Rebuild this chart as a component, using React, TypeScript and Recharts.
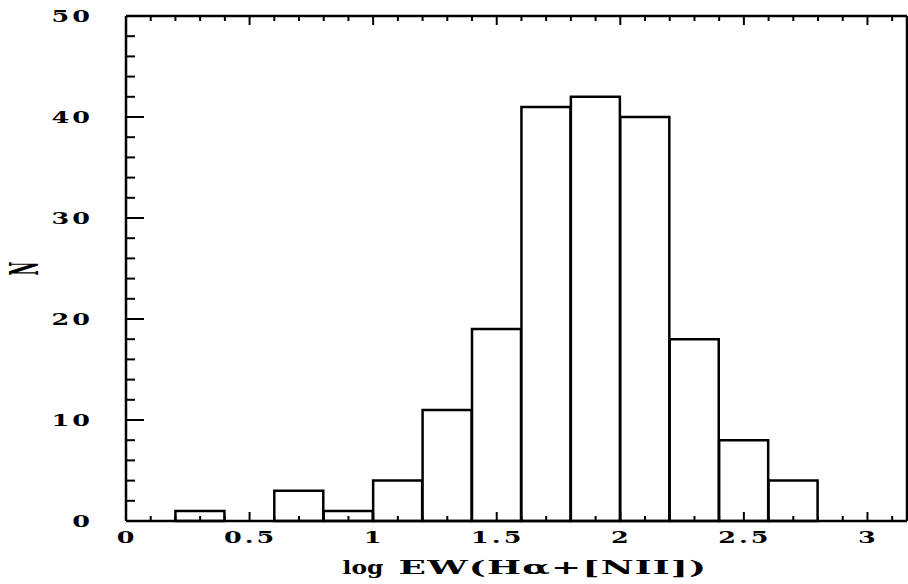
import { BarChart, Bar, XAxis, YAxis, Label } from "recharts";

// histogram bins (centre of each 0.2 wide bin) and counts
const binCenters = [0.1, 0.3, 0.5, 0.7, 0.9, 1.1, 1.3, 1.5, 1.7, 1.9, 2.1, 2.3, 2.5, 2.7];
const counts = [0, 1, 0, 3, 1, 4, 11, 19, 41, 42, 40, 18, 8, 4];

const xMajorTicks = [0, 0.5, 1, 1.5, 2, 2.5, 3];
const xTicks = [0, 0.1, 0.2, 0.3, 0.4, 0.5, 0.6, 0.7, 0.8, 0.9, 1, 1.1, 1.2, 1.3, 1.4, 1.5, 1.6, 1.7, 1.8, 1.9, 2, 2.1, 2.2, 2.3, 2.4, 2.5, 2.6, 2.7, 2.8, 2.9, 3, 3.1];
const yMajorTicks = [0, 10, 20, 30, 40, 50];
const yTicks = [0, 2, 4, 6, 8, 10, 12, 14, 16, 18, 20, 22, 24, 26, 28, 30, 32, 34, 36, 38, 40, 42, 44, 46, 48, 50];

const data = binCenters.map((x, i) => ({ x, n: counts[i] }));

const FONT = "'DejaVu Serif', serif";
const X_MAX = 3.16;
const isMajor = (list: number[], v: number) => list.some((m) => Math.abs(m - v) < 1e-6);

function BottomTick(props: any) {
  const { x, y, payload } = props;
  const major = isMajor(xMajorTicks, payload.value);
  return (
    <g>
      <line x1={x} x2={x} y1={y} y2={y - (major ? 9 : 5)} stroke="#000" strokeWidth={2} />
      {major && (
        <text
          transform={`translate(${x + 1},${y + 22}) scale(1.5,1)`}
          textAnchor="middle"
          fontFamily={FONT}
          fontWeight="bold"
          fontSize={17}
          letterSpacing={2}
          fill="#000"
        >
          {payload.value}
        </text>
      )}
    </g>
  );
}

function TopTick(props: any) {
  const { x, y, payload } = props;
  const major = isMajor(xMajorTicks, payload.value);
  return <line x1={x} x2={x} y1={y} y2={y + (major ? 9 : 5)} stroke="#000" strokeWidth={2} />;
}

function LeftTick(props: any) {
  const { x, y, payload } = props;
  const major = isMajor(yMajorTicks, payload.value);
  return (
    <g>
      <line x1={x} x2={x + (major ? 18 : 9)} y1={y} y2={y} stroke="#000" strokeWidth={2} />
      {major && (
        <text
          transform={`translate(${x - 33},${y + 6}) scale(1.5,1)`}
          textAnchor="end"
          fontFamily={FONT}
          fontWeight="bold"
          fontSize={17}
          letterSpacing={2}
          fill="#000"
        >
          {payload.value}
        </text>
      )}
    </g>
  );
}

function RightTick(props: any) {
  const { x, y, payload } = props;
  const major = isMajor(yMajorTicks, payload.value);
  return <line x1={x} x2={x - (major ? 14 : 6)} y1={y} y2={y} stroke="#000" strokeWidth={2} />;
}

function XTitle(p: any) {
  const vb = p.viewBox;
  const cx = vb.x + vb.width / 2;
  const base = vb.y + 53;
  const common = { fontFamily: FONT, fontWeight: "bold", fontSize: 18, fill: "#000" };
  return (
    <g>
      <text transform={`translate(${cx - 174},${base}) scale(1.3,1)`} textAnchor="start" {...common}>
        log
      </text>
      <text
        transform={`translate(${cx - 118},${base}) scale(2,1)`}
        textAnchor="start"
        letterSpacing={0.6}
        {...common}
      >
        EW(Hα+[NII])
      </text>
    </g>
  );
}

export default function App() {
  return (
    <div style={{ position: "fixed", left: 0, top: 0, width: 908, height: 584, background: "#fff" }}>
      <BarChart
        width={908}
        height={584}
        data={data}
        margin={{ top: 15, right: 0, bottom: 0, left: 0 }}
        barCategoryGap={0}
        barGap={0}
      >
        <XAxis
          dataKey="x"
          type="number"
          domain={[0, X_MAX]}
          allowDataOverflow
          ticks={xTicks}
          interval={0}
          height={63}
          tickSize={0}
          tickMargin={0}
          tickLine={false}
          axisLine={{ stroke: "#000", strokeWidth: 2.5 }}
          tick={<BottomTick />}
        >
          <Label content={(p: any) => <XTitle {...p} />} />
        </XAxis>
        <XAxis
          xAxisId="top"
          dataKey="x"
          type="number"
          orientation="top"
          domain={[0, X_MAX]}
          allowDataOverflow
          ticks={xTicks}
          interval={0}
          height={1}
          tickSize={0}
          tickMargin={0}
          tickLine={false}
          axisLine={{ stroke: "#000", strokeWidth: 2.5 }}
          tick={<TopTick />}
        />
        <YAxis
          type="number"
          domain={[0, 50]}
          ticks={yTicks}
          interval={0}
          width={126}
          tickSize={0}
          tickMargin={0}
          tickLine={false}
          axisLine={{ stroke: "#000", strokeWidth: 2.5 }}
          tick={<LeftTick />}
        >
          <Label
            content={(p: any) => {
              const vb = p.viewBox;
              return (
                <text
                  transform={`translate(${vb.x + 25},${vb.y + vb.height / 2}) rotate(-90) scale(0.95,2.4)`}
                  textAnchor="middle"
                  dominantBaseline="central"
                  fontFamily={FONT}
                  fontWeight="bold"
                  fontSize={16}
                  fill="#000"
                >
                  N
                </text>
              );
            }}
          />
        </YAxis>
        <YAxis
          yAxisId="right"
          orientation="right"
          type="number"
          domain={[0, 50]}
          ticks={yTicks}
          interval={0}
          width={1}
          tickSize={0}
          tickMargin={0}
          tickLine={false}
          axisLine={{ stroke: "#000", strokeWidth: 2.5 }}
          tick={<RightTick />}
        />
        <Bar dataKey="n" fill="#fff" stroke="#000" strokeWidth={2.5} isAnimationActive={false} />
      </BarChart>
    </div>
  );
}
